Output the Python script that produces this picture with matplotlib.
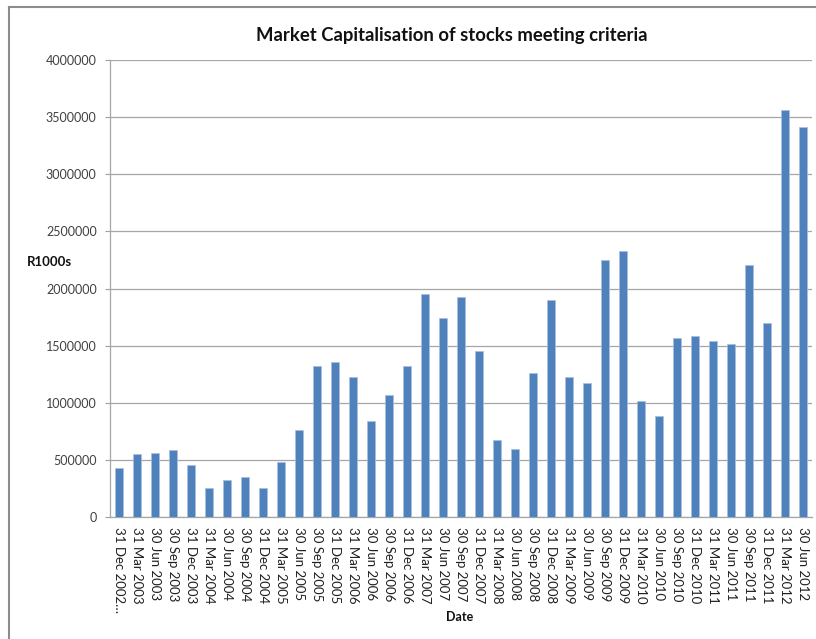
import matplotlib
matplotlib.use("Agg")
import matplotlib.pyplot as plt
from matplotlib.lines import Line2D
import numpy as np

dates = ["31 Dec 2002…", "31 Mar 2003", "30 Jun 2003", "30 Sep 2003", "31 Dec 2003",
         "31 Mar 2004", "30 Jun 2004", "30 Sep 2004", "31 Dec 2004", "31 Mar 2005",
         "30 Jun 2005", "30 Sep 2005", "31 Dec 2005", "31 Mar 2006", "30 Jun 2006",
         "30 Sep 2006", "31 Dec 2006", "31 Mar 2007", "30 Jun 2007", "30 Sep 2007",
         "31 Dec 2007", "31 Mar 2008", "30 Jun 2008", "30 Sep 2008", "31 Dec 2008",
         "31 Mar 2009", "30 Jun 2009", "30 Sep 2009", "31 Dec 2009", "31 Mar 2010",
         "30 Jun 2010", "30 Sep 2010", "31 Dec 2010", "31 Mar 2011", "30 Jun 2011",
         "30 Sep 2011", "31 Dec 2011", "31 Mar 2012", "30 Jun 2012"]
market_cap = [434000, 553000, 559000, 591000, 457000,
              253000, 326000, 350000, 253000, 483000,
              763000, 1325000, 1355000, 1229000, 842000,
              1066000, 1320000, 1952000, 1740000, 1923000,
              1455000, 678000, 599000, 1262000, 1905000,
              1227000, 1172000, 2247000, 2331000, 1014000,
              888000, 1569000, 1590000, 1546000, 1516000,
              2206000, 1697000, 3561000, 3418000]
y_ticks = [0, 500000, 1000000, 1500000, 2000000, 2500000, 3000000, 3500000, 4000000]

plt.rcParams['font.family'] = ['Lato', 'DejaVu Sans']

fig = plt.figure(figsize=(8.16, 6.39), dpi=100)
W, H = 816, 639
ax = fig.add_axes([110 / W, 1 - 517.3 / H, (812 - 110) / W, (517.3 - 60) / H])

x = np.arange(len(dates))
ax.bar(x, market_cap, width=0.4, color="#4F81BD", edgecolor="#A7C0DE", linewidth=0.5, zorder=3)

ax.set_xlim(-0.5, len(dates) - 0.5)
ax.set_ylim(0, 4000000)
ax.set_yticks(y_ticks)
ax.set_yticklabels([str(v) for v in y_ticks], fontsize=9, color="#404040")
ax.set_xticks(x)
ax.set_xticklabels(dates, rotation=270, fontsize=9.5, color="#202020", va="top", ha="center")
ax.tick_params(axis="x", length=0, pad=7)
ax.tick_params(axis="y", length=3.6, color="#A0A0A0", width=0.8, pad=6)

ax.grid(axis="y", color="#A6A6A6", linewidth=0.9, zorder=0)
for s in ["top", "right"]:
    ax.spines[s].set_visible(False)
ax.spines["left"].set_color("#A6A6A6")
ax.spines["bottom"].set_color("#A6A6A6")
ax.spines["left"].set_linewidth(0.9)
ax.spines["bottom"].set_linewidth(0.9)

fig.text(452 / W, 1 - 36 / H, "Market Capitalisation of stocks meeting criteria",
         ha="center", va="center", fontsize=13.3, fontweight="bold", color="#111111")
fig.text(49 / W, 1 - 262 / H, "R1000s", ha="center", va="center", fontsize=9.5,
         fontweight="bold", color="#111111")
fig.text(460 / W, 1 - 617 / H, "Date", ha="center", va="center", fontsize=9,
         fontweight="bold", color="#111111")

# partial chart border (top and left)
fig.add_artist(Line2D([9 / W, 1.0], [1 - 6.5 / H, 1 - 6.5 / H], color="#8C8C8C", linewidth=1.5,
                      transform=fig.transFigure))
fig.add_artist(Line2D([9 / W, 9 / W], [1 - 6.5 / H, 0.0], color="#8C8C8C", linewidth=1.5,
                      transform=fig.transFigure))

fig.savefig("out.png", dpi=100)
